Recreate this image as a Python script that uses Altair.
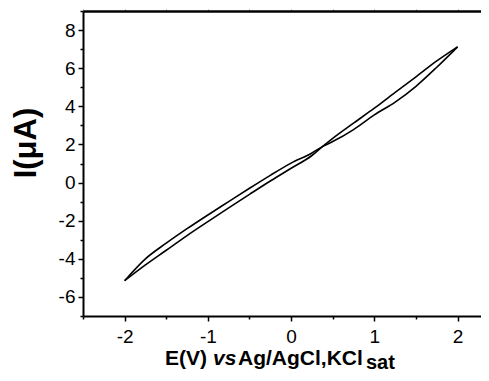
import altair as alt
import pandas as pd

# Potential (V vs Ag/AgCl, KCl sat)
E_values = [-2.0, -1.75, -1.5, -1.25, -1.0, -0.75, -0.5, -0.25, 0.0, 0.25, 0.38, 0.5, 0.75, 1.0, 1.25, 1.5, 1.75, 2.0]
# Forward sweep (lower on the left, upper on the right), current in uA
I_forward = [-5.15, -4.32, -3.55, -2.78, -2.05, -1.33, -0.62, 0.08, 0.75, 1.42, 1.90, 2.32, 3.12, 3.90, 4.73, 5.55, 6.38, 7.12]
# Reverse sweep (upper on the left, lower on the right), current in uA
I_reverse = [-5.15, -4.00, -3.18, -2.42, -1.70, -1.00, -0.30, 0.38, 1.02, 1.55, 1.90, 2.15, 2.78, 3.55, 4.22, 5.05, 6.05, 7.12]

x_ticks = [-2.5, -2.0, -1.5, -1.0, -0.5, 0.0, 0.5, 1.0, 1.5, 2.0]
y_ticks = [-7, -6, -5, -4, -3, -2, -1, 0, 1, 2, 3, 4, 5, 6, 7, 8, 9]

rows = []
for e, i in zip(E_values, I_forward):
    rows.append({"E": e, "I": i, "sweep": "forward"})
for e, i in zip(E_values, I_reverse):
    rows.append({"E": e, "I": i, "sweep": "reverse"})
df = pd.DataFrame(rows)
tick_df = pd.DataFrame({"E": x_ticks})

FONT = "Liberation Sans"

x_scale = alt.Scale(domain=[-2.5, 2.281], nice=False, zero=False)
y_scale = alt.Scale(domain=[-7, 9], nice=False, zero=False)

x_axis = alt.Axis(
    orient="bottom", title=None, values=x_ticks, grid=False,
    labelExpr="abs(datum.value % 1) < 0.01 ? '' + datum.value : ''",
    tickSize={"condition": {"test": "abs(datum.value % 1) < 0.01", "value": 5}, "value": 3},
    tickWidth=1.5, tickColor="black", domainColor="black", domainWidth=2,
    labelFont=FONT, labelFontSize=19, labelColor="black", labelPadding=6,
    labelFlush=False, labelOverlap=False,
)
y_axis = alt.Axis(
    orient="left", title=None, values=y_ticks, grid=False,
    labelExpr="abs(datum.value % 2) < 0.01 ? '' + datum.value : ''",
    tickSize={"condition": {"test": "abs(datum.value % 2) < 0.01", "value": 5}, "value": 3},
    tickWidth=1.5, tickColor="black", domainColor="black", domainWidth=2,
    labelFont=FONT, labelFontSize=19, labelColor="black", labelPadding=3,
    labelFlush=False, labelOverlap=False,
)

curve = alt.Chart(df).mark_line(color="black", strokeWidth=1.6, interpolate="monotone").encode(
    x=alt.X("E:Q", scale=x_scale, axis=x_axis),
    y=alt.Y("I:Q", scale=y_scale, axis=y_axis),
    detail="sweep:N",
)

top_axis = alt.Chart(tick_df).mark_rule(opacity=0).encode(
    x=alt.X("E:Q", scale=x_scale, axis=alt.Axis(
        orient="top", title=None, values=x_ticks, labels=False, grid=False,
        tickSize=2, tickColor="#999999", tickWidth=1,
        domainColor="black", domainWidth=2.5)),
)

def label(text, x, y, size=21, style="normal", angle=0, align="left", baseline="alphabetic"):
    return alt.Chart(pd.DataFrame({"t": [text]})).mark_text(
        font=FONT, fontSize=size, fontWeight="bold", fontStyle=style,
        color="black", align=align, baseline=baseline, angle=angle,
    ).encode(text="t:N", x=alt.value(x), y=alt.value(y))

# positions relative to the plot's top-left corner (plot starts at page x=83, y=11)
t1 = label("E(V)", 82, 354)
t2 = label("vs", 130, 354, style="italic")
t3 = label("Ag/AgCl,KCl", 155, 354)
t4 = label("sat", 283, 358, size=20)
ytitle = label("I(μA)", -56, 132, size=31, angle=270, align="center", baseline="middle")

chart = alt.layer(curve, top_axis, t1, t2, t3, t4, ytitle).resolve_axis(
    x="independent"
).properties(
    width=398, height=305,
    padding={"left": 75, "top": 3, "right": 0, "bottom": 57},
    autosize="none",
).configure_view(stroke=None)

chart.save("out.html", embed_options={"renderer": "svg", "actions": False})
